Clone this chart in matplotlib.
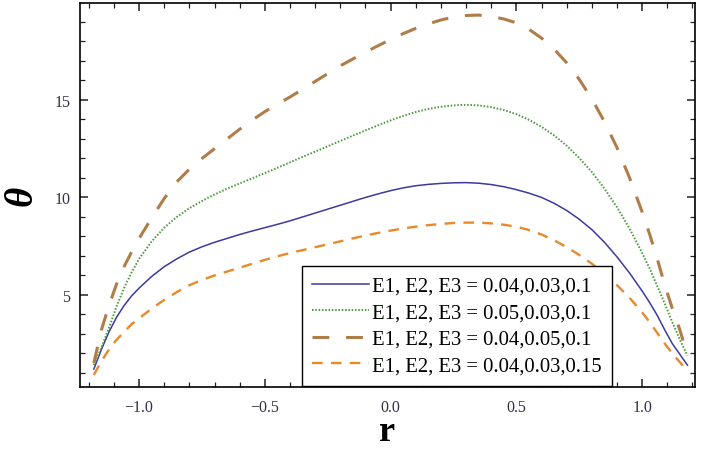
import matplotlib.pyplot as plt
from matplotlib.ticker import MultipleLocator

r = [-1.18, -1.15, -1.12, -1.09, -1.06, -1.03,
     -1.0, -0.95, -0.9, -0.85, -0.8, -0.75, -0.7, -0.65, -0.6, -0.55, -0.5, -0.45, -0.4, -0.35,
     -0.3, -0.25, -0.2, -0.15, -0.1, -0.05, 0.0, 0.05, 0.1, 0.15, 0.2, 0.25, 0.3, 0.35, 0.4,
     0.45, 0.5, 0.55, 0.6, 0.65, 0.7, 0.75, 0.8, 0.85, 0.9, 0.95, 1.0,
     1.03, 1.06, 1.09, 1.12, 1.15, 1.18]

theta_1 = [1.2, 2.2, 3.1, 3.85, 4.45, 4.95,
           5.35, 5.95, 6.45, 6.85, 7.2, 7.47, 7.7, 7.9, 8.1, 8.28, 8.45, 8.62, 8.8, 9.0,
           9.2, 9.4, 9.6, 9.8, 10.0, 10.18, 10.35, 10.49, 10.6, 10.67, 10.72, 10.75, 10.76, 10.73, 10.66,
           10.55, 10.4, 10.22, 10.0, 9.7, 9.33, 8.88, 8.35, 7.7, 6.95, 6.12, 5.2,
           4.6, 3.95, 3.2, 2.5, 1.95, 1.4]
theta_2 = [1.4, 2.3, 3.3, 4.4, 5.35, 6.15,
           6.85, 7.75, 8.45, 9.0, 9.45, 9.82, 10.15, 10.45, 10.72, 10.98, 11.25, 11.52, 11.8, 12.08,
           12.35, 12.62, 12.9, 13.17, 13.44, 13.7, 13.95, 14.18, 14.38, 14.54, 14.65, 14.72, 14.75, 14.72, 14.63,
           14.48, 14.27, 13.98, 13.62, 13.18, 12.65, 12.02, 11.3, 10.45, 9.5, 8.4, 7.15,
           6.35, 5.45, 4.55, 3.6, 2.7, 1.9]
theta_3 = [1.5, 3.2, 4.45, 5.55, 6.45, 7.2,
           7.9, 8.95, 9.95, 10.8, 11.45, 12.0, 12.5, 13.0, 13.5, 13.97, 14.4, 14.78, 15.15, 15.55,
           15.95, 16.35, 16.75, 17.1, 17.45, 17.78, 18.1, 18.4, 18.67, 18.9, 19.1, 19.25, 19.33, 19.35, 19.28,
           19.15, 18.95, 18.62, 18.17, 17.6, 16.9, 16.05, 15.05, 13.88, 12.55, 11.0, 9.25,
           8.1, 6.85, 5.5, 4.3, 3.2, 1.9]
theta_4 = [0.9, 1.6, 2.2, 2.7, 3.1, 3.5,
           3.8, 4.3, 4.75, 5.15, 5.5, 5.77, 6.0, 6.2, 6.4, 6.6, 6.8, 6.98, 7.15, 7.3,
           7.45, 7.6, 7.75, 7.9, 8.05, 8.18, 8.3, 8.41, 8.5, 8.58, 8.64, 8.69, 8.71, 8.71, 8.67,
           8.6, 8.5, 8.33, 8.1, 7.8, 7.45, 7.05, 6.6, 6.08, 5.5, 4.85, 4.1,
           3.6, 3.05, 2.5, 2.0, 1.55, 1.1]

labels = ['E1, E2, E3 = 0.04,0.03,0.1',
          'E1, E2, E3 = 0.05,0.03,0.1',
          'E1, E2, E3 = 0.04,0.05,0.1',
          'E1, E2, E3 = 0.04,0.03,0.15']

plt.rcParams['font.family'] = ['Liberation Serif', 'DejaVu Serif']

fig = plt.figure(figsize=(7.06, 4.56), dpi=100)
ax = fig.add_axes([80 / 706, 1 - 388 / 456, 615 / 706, 384 / 456])

ax.plot(r, theta_1, color='#3a3aa0', lw=1.1, label=labels[0])
ax.plot(r, theta_2, color='#4a9a3c', lw=1.4, linestyle=(0, (0.8, 0.9)), label=labels[1])
ax.plot(r, theta_3, color='#b07d48', lw=2.2, linestyle=(0, (5.5, 5.5)), label=labels[2])
ax.plot(r, theta_4, color='#e8892a', lw=1.7, linestyle=(0, (4.5, 3.5)), label=labels[3])

ax.set_xlim(-1.235, 1.21)
ax.set_ylim(0.28, 19.97)
ax.xaxis.set_major_locator(MultipleLocator(0.5))
ax.xaxis.set_minor_locator(MultipleLocator(0.1))
ax.yaxis.set_major_locator(MultipleLocator(5))
ax.yaxis.set_minor_locator(MultipleLocator(1))
ax.set_yticks([5, 10, 15])
ax.tick_params(which='both', direction='in', top=True, right=True, labelsize=11.5,
               labelcolor='#303048', color='#222222')
ax.tick_params(which='major', length=6, width=1.1)
ax.tick_params(which='minor', length=3.5, width=0.9)
ax.tick_params(axis='x', which='major', pad=9)
ax.tick_params(axis='y', which='major', pad=7)
for s in ax.spines.values():
    s.set_linewidth(1.2)

ax.set_xlabel('r', fontsize=26, fontweight='bold', labelpad=0)
ax.set_ylabel('θ', fontsize=28, fontweight='bold', fontstyle='italic', labelpad=10)

ax.legend(loc='lower left', bbox_to_anchor=(0.361, 0.003), fontsize=14.9, frameon=True,
          fancybox=False, edgecolor='black', framealpha=1, handlelength=2.75,
          handletextpad=0.12, borderpad=0.5, labelspacing=0.34, borderaxespad=0)

fig.savefig('out.png', dpi=100)
